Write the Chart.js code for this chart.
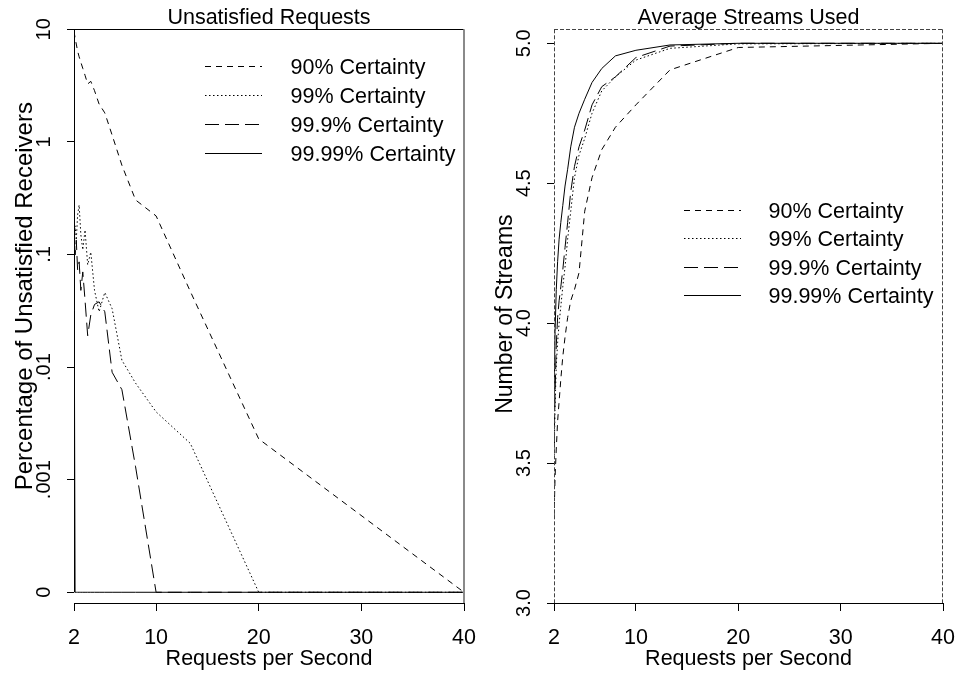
<!DOCTYPE html>
<html><head><meta charset="utf-8">
<script src="https://cdn.jsdelivr.net/npm/chart.js@4.4.1/dist/chart.umd.min.js"></script>
<style>
html,body{margin:0;padding:0;background:#fff;}
#wrap{position:relative;width:958px;height:673px;overflow:hidden;background:#fff;}
canvas{position:absolute;top:0;}
#c1{left:0;} #c2{left:479px;}
</style></head><body>
<div id="wrap"><canvas id="c1" width="479" height="673"></canvas><canvas id="c2" width="479" height="673"></canvas></div>
<script>
// ---------- data ----------
const requestRates = [2, 2.105, 2.222, 2.353, 2.5, 2.667, 2.857, 3.077, 3.333, 3.636, 4, 4.444, 5, 5.714, 6.667, 8, 10, 13.333, 20, 40];
const seriesNames = ['90% Certainty', '99% Certainty', '99.9% Certainty', '99.99% Certainty'];

// Unsatisfied requests (percentage of unsatisfied receivers, log scale; 0 shown at the "0" tick)
const unsatisfied90   = [9.6, 8.4, 7.4, 6.4, 5.7, 5.1, 4.5, 3.9, 3.27, 3.45, 2.85, 2.17, 1.81, 1.15, 0.62, 0.305, 0.22, 0.047, 0.0023, 0];
const unsatisfied99   = [0.11, 0.18, 0.134, 0.225, 0.275, 0.15, 0.11, 0.165, 0.081, 0.105, 0.048, 0.031, 0.046, 0.033, 0.0115, 0.0072, 0.0040, 0.0021, 0, 0];
const unsatisfied999  = [0.18, 0.099, 0.134, 0.073, 0.086, 0.048, 0.07, 0.039, 0.019, 0.029, 0.036, 0.038, 0.031, 0.009, 0.0063, 0.0013, 0, 0, 0, 0];
const unsatisfied9999 = [0.22, 0, 0, 0, 0, 0, 0, 0, 0, 0, 0, 0, 0, 0, 0, 0, 0, 0, 0, 0];

// Average streams used
const streams90   = [3.30, 3.45, 3.55, 3.65, 3.72, 3.80, 3.88, 3.95, 4.02, 4.08, 4.12, 4.18, 4.40, 4.52, 4.62, 4.70, 4.78, 4.905, 4.985, 5.0];
const streams99   = [3.50, 3.70, 3.85, 3.93, 4.00, 4.06, 4.13, 4.20, 4.30, 4.40, 4.52, 4.60, 4.66, 4.75, 4.83, 4.88, 4.94, 4.982, 4.998, 5.0];
const streams999  = [3.55, 3.75, 3.92, 4.02, 4.08, 4.13, 4.19, 4.27, 4.36, 4.47, 4.56, 4.63, 4.69, 4.78, 4.845, 4.88, 4.949, 4.99, 5.0, 5.0];
const streams9999 = [3.70, 3.97, 4.12, 4.22, 4.30, 4.36, 4.42, 4.49, 4.55, 4.63, 4.70, 4.75, 4.80, 4.86, 4.91, 4.955, 4.975, 4.994, 5.0, 5.0];

// ticks
const xTickValues = [2, 10, 20, 30, 40];
const unsatTickValues = [0.0001, 0.001, 0.01, 0.1, 1, 10];
const unsatTickLabels = ['0', '.001', '.01', '.1', '1', '10'];
const streamTickValues = [3.0, 3.5, 4.0, 4.5, 5.0];
const streamTickLabels = ['3.0', '3.5', '4.0', '4.5', '5.0'];
const ZERO_LEVEL = 0.0001;   // where "0" sits on the log axis

// ---------- styling ----------
const FONT = '"Liberation Sans", Arial, Helvetica, sans-serif';
const dashStyles = [[6, 5], [1.5, 2.5], [14, 6], []];

function makeDatasets(seriesList, mapY) {
  return seriesList.map((vals, i) => ({
    label: seriesNames[i],
    data: requestRates.map((x, j) => ({ x: x, y: mapY(vals[j]) })),
    borderColor: '#000',
    borderWidth: 1,
    borderDash: dashStyles[i],
    pointRadius: 0,
    fill: false,
    tension: 0
  }));
}

function line(ctx, x1, y1, x2, y2) {
  ctx.beginPath(); ctx.moveTo(x1, y1); ctx.lineTo(x2, y2); ctx.stroke();
}

const decoPlugin = {
  id: 'rdeco',
  afterDraw(chart, args, o) {
    const { ctx, chartArea: a } = chart;
    const x = chart.scales.x, y = chart.scales.y;
    ctx.save();
    ctx.lineWidth = 1; ctx.strokeStyle = '#000'; ctx.setLineDash([]);
    const xl = x.getPixelForValue(xTickValues[0]);
    const xr = x.getPixelForValue(xTickValues[xTickValues.length - 1]);
    // x axis line
    line(ctx, xl, Math.round(a.bottom) + 0.5, xr, Math.round(a.bottom) + 0.5);
    if (o.frame === 'solid') {
      const yb = y.getPixelForValue(o.yTicks[0]);
      const yt = y.getPixelForValue(o.yTicks[o.yTicks.length - 1]);
      line(ctx, Math.round(a.left) + 0.5, yb, Math.round(a.left) + 0.5, yt);
      line(ctx, a.left, Math.round(a.top) + 0.5, a.right, Math.round(a.top) + 0.5);
      ctx.strokeStyle = '#8a8a8a'; ctx.lineWidth = 2;
      line(ctx, a.right, a.top, a.right, a.bottom);
    } else {
      ctx.strokeStyle = '#444'; ctx.setLineDash([4, 2]);
      line(ctx, a.left, Math.round(a.top) + 0.5, a.right, Math.round(a.top) + 0.5);
      line(ctx, Math.round(a.left) + 0.5, a.top, Math.round(a.left) + 0.5, a.bottom);
      line(ctx, Math.round(a.right) - 0.5, a.top, Math.round(a.right) - 0.5, a.bottom);
    }
    ctx.setLineDash([]);
    ctx.fillStyle = '#000';
    // y tick labels (rotated, R style)
    ctx.font = '20px ' + FONT;
    ctx.textAlign = 'center'; ctx.textBaseline = 'alphabetic';
    o.yTicks.forEach((v, i) => {
      const py = y.getPixelForValue(v);
      ctx.save(); ctx.translate(a.left - 24, py); ctx.rotate(-Math.PI / 2);
      ctx.fillText(o.yLabels[i], 0, 0); ctx.restore();
    });
    // y title
    ctx.font = o.yTitleSize + 'px ' + FONT;
    ctx.save(); ctx.translate(a.left - 42, (a.top + a.bottom) / 2 + o.yTitleShift); ctx.rotate(-Math.PI / 2);
    ctx.fillText(o.yTitle, 0, 0); ctx.restore();
    // main title and x title
    ctx.font = '21.5px ' + FONT;
    ctx.fillText(o.title, (a.left + a.right) / 2, a.top - 5.3);
    ctx.fillText(o.xTitle, (a.left + a.right) / 2, a.bottom + 62);
    // legend
    const L = o.legend;
    ctx.textAlign = 'left';
    chart.data.datasets.forEach((ds, i) => {
      const yy = Math.round(L.y0 + i * L.dy) + 0.5;
      ctx.setLineDash(ds.borderDash || []);
      ctx.strokeStyle = '#000'; ctx.lineWidth = 1;
      line(ctx, L.x1, yy, L.x2, yy);
      ctx.setLineDash([]);
      ctx.fillText(ds.label, L.tx, yy + 7.5);
    });
    ctx.restore();
  }
};

function makeChart(id, datasets, yScale, yWidth, deco) {
  return new Chart(document.getElementById(id), {
    type: 'line',
    data: { datasets: datasets },
    options: {
      responsive: false, animation: false, devicePixelRatio: 1, events: [],
      layout: { padding: { top: 29.3, right: 15, bottom: 0, left: 0 } },
      plugins: { legend: { display: false }, tooltip: { enabled: false }, title: { display: false }, rdeco: deco },
      scales: {
        x: {
          type: 'linear', position: 'bottom', min: 2, max: 40, bounds: 'data',
          afterBuildTicks: s => { s.ticks = xTickValues.map(v => ({ value: v })); },
          afterFit: s => { s.height = 70; s.paddingLeft = 0; s.paddingRight = 0; },
          ticks: { autoSkip: false, maxRotation: 0, minRotation: 0, color: '#000',
                   font: { family: FONT, size: 21.5, lineHeight: 1.2 }, padding: 14,
                   callback: v => String(v) },
          grid: { display: true, drawOnChartArea: false, drawTicks: true, tickLength: 8, color: '#000', lineWidth: 1 },
          border: { display: false }
        },
        y: Object.assign({
          position: 'left', bounds: 'data',
          afterFit: s => { s.width = yWidth; s.paddingTop = 0; s.paddingBottom = 0; },
          ticks: { display: false },
          grid: { display: true, drawOnChartArea: false, drawTicks: true, tickLength: 7, color: '#000', lineWidth: 1 },
          border: { display: false }
        }, yScale)
      }
    },
    plugins: [decoPlugin]
  });
}

const toLog = v => (v <= 0 ? ZERO_LEVEL : v);

makeChart('c1',
  makeDatasets([unsatisfied90, unsatisfied99, unsatisfied999, unsatisfied9999], toLog),
  { type: 'logarithmic', min: 0.0000803, max: 10,
    afterBuildTicks: s => { s.ticks = unsatTickValues.map(v => ({ value: v })); } },
  74,
  { frame: 'solid', yTicks: unsatTickValues, yLabels: unsatTickLabels,
    title: 'Unsatisfied Requests', xTitle: 'Requests per Second',
    yTitle: 'Percentage of Unsatisfied Receivers', yTitleSize: 24, yTitleShift: -20,
    legend: { x1: 205, x2: 262, tx: 290.5, y0: 66, dy: 28.9 } });

makeChart('c2',
  makeDatasets([streams90, streams99, streams999, streams9999], v => v),
  { type: 'linear', min: 3.0, max: 5.05,
    afterBuildTicks: s => { s.ticks = streamTickValues.map(v => ({ value: v })); } },
  75,
  { frame: 'dashed', yTicks: streamTickValues, yLabels: streamTickLabels,
    title: 'Average Streams Used', xTitle: 'Requests per Second',
    yTitle: 'Number of Streams', yTitleSize: 23, yTitleShift: -2,
    legend: { x1: 205, x2: 262, tx: 289.5, y0: 210, dy: 28.33 } });
</script>
</body></html>
